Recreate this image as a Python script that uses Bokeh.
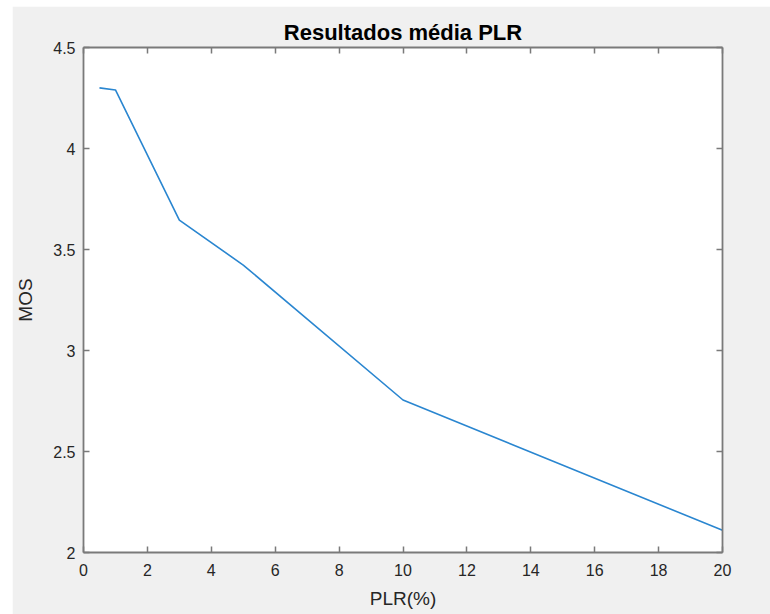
from bokeh.plotting import figure
from bokeh.models import LinearAxis, FixedTicker, Range1d, Title, Spacer
from bokeh.layouts import row, column
from bokeh.embed import file_html
from bokeh.resources import INLINE

plr = [0.5, 1, 3, 5, 10, 20]
mos = [4.30, 4.29, 3.645, 3.423, 2.755, 2.11]
x_ticks = [0, 2, 4, 6, 8, 10, 12, 14, 16, 18, 20]
y_ticks = [2, 2.5, 3, 3.5, 4, 4.5]
y_tick_labels = ["2", "2.5", "3", "3.5", "4", "4.5"]

FONT = "Liberation Sans"
AX = "#262626"
BOX = "#7a7a7a"
BG = "#f0f0f0"

p = figure(width=758, height=608, output_backend="svg", toolbar_location=None,
           x_range=Range1d(0, 20), y_range=Range1d(2, 4.5),
           x_axis_location=None, y_axis_location=None,
           min_border_left=71, min_border_top=41, min_border_right=48, min_border_bottom=62)
p.background_fill_color = "white"
p.border_fill_color = BG
p.outline_line_color = None
p.grid.visible = False

p.line(plr, mos, line_color="#2a86d0", line_width=1.6)

def style(ax, labels=True):
    ax.axis_line_color = BOX
    ax.axis_line_width = 1.8
    ax.major_tick_line_color = BOX
    ax.major_tick_line_width = 1.5
    ax.major_tick_in = 6
    ax.major_tick_out = 0
    ax.minor_tick_in = 0
    ax.minor_tick_out = 0
    ax.major_label_text_font = FONT
    ax.major_label_text_font_size = "16px"
    ax.major_label_text_color = AX
    ax.axis_label_text_font = FONT
    ax.axis_label_text_font_size = "19px"
    ax.axis_label_text_font_style = "normal"
    ax.axis_label_text_color = AX
    if not labels:
        ax.major_label_text_font_size = "0px"
        ax.major_label_text_alpha = 0

xb = LinearAxis(ticker=FixedTicker(ticks=x_ticks), axis_label="PLR(%)")
style(xb)
xb.major_label_standoff = 11
xb.axis_label_standoff = 9
p.add_layout(xb, "below")

yl = LinearAxis(ticker=FixedTicker(ticks=y_ticks), axis_label="MOS",
                major_label_overrides={t: l for t, l in zip(y_ticks, y_tick_labels)})
style(yl)
yl.major_label_standoff = 8
yl.axis_label_standoff = 14
p.add_layout(yl, "left")

xa = LinearAxis(ticker=FixedTicker(ticks=x_ticks))
style(xa, labels=False)
xa.major_label_standoff = 0
p.add_layout(xa, "above")

yr = LinearAxis(ticker=FixedTicker(ticks=y_ticks))
style(yr, labels=False)
yr.major_label_standoff = 0
p.add_layout(yr, "right")

p.title = Title(text="Resultados média PLR", align="center", text_font=FONT,
                text_font_size="22px", text_font_style="bold", text_color="#000000",
                standoff=6)

layout = row(Spacer(width=12), column(Spacer(height=6), p))
open("out.html", "w").write(file_html(layout, INLINE))
